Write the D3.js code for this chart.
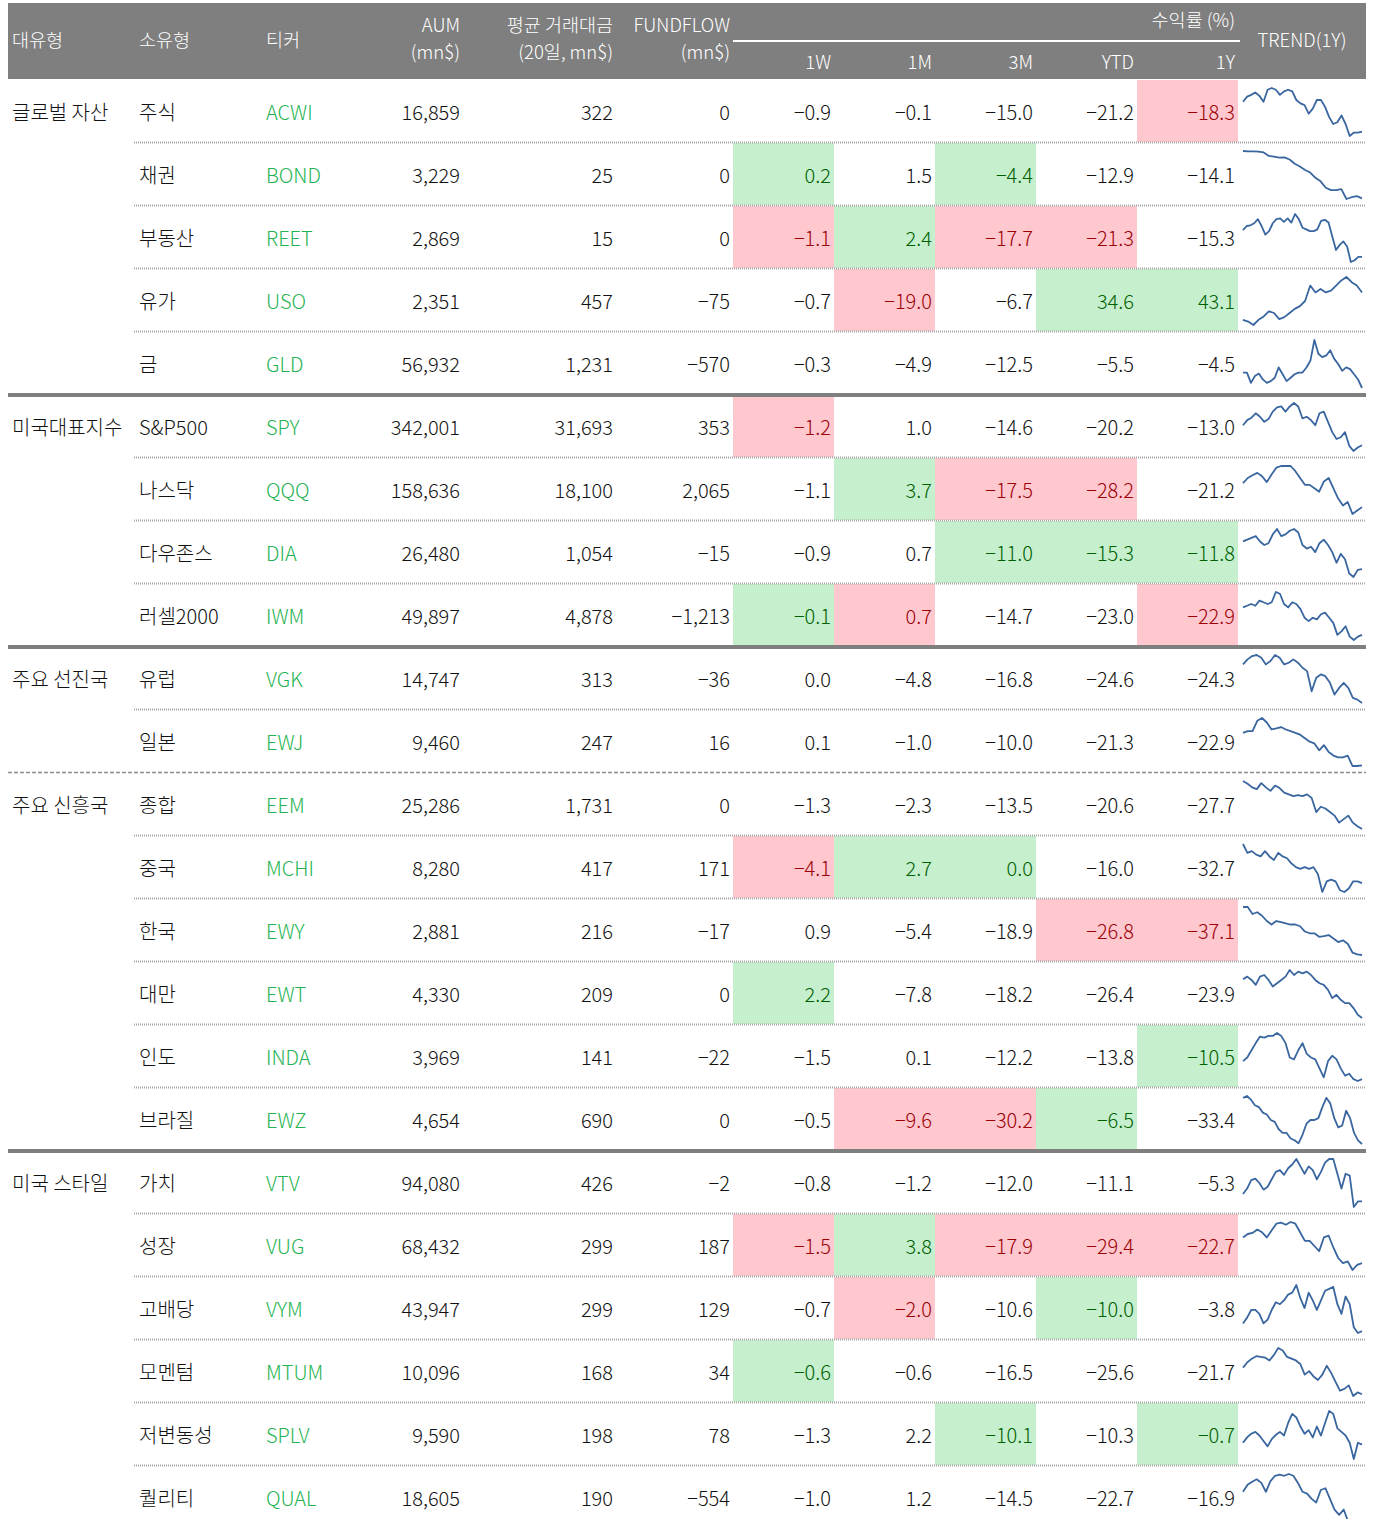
<!DOCTYPE html>
<html>
<head>
<meta charset="utf-8">
<script src="https://cdn.jsdelivr.net/npm/d3@7/dist/d3.min.js"></script>
<style>
  body { margin: 0; background: #fff; }
  svg { display: block; font-family: "Noto Sans CJK KR", "Noto Sans", sans-serif; font-weight: 300; }
</style>
</head>
<body>
<svg id="chart"></svg>
<script>
const groupNames = ['글로벌 자산', '미국대표지수', '주요 선진국', '주요 신흥국', '미국 스타일']
const groupCounts = [5, 4, 2, 6, 6]
const subTypes = ['주식', '채권', '부동산', '유가', '금', 'S&P500', '나스닥', '다우존스', '러셀2000', '유럽', '일본',
  '종합', '중국', '한국', '대만', '인도', '브라질', '가치', '성장', '고배당', '모멘텀', '저변동성', '퀄리티']
const tickers = ['ACWI', 'BOND', 'REET', 'USO', 'GLD', 'SPY', 'QQQ', 'DIA', 'IWM', 'VGK', 'EWJ',
  'EEM', 'MCHI', 'EWY', 'EWT', 'INDA', 'EWZ', 'VTV', 'VUG', 'VYM', 'MTUM', 'SPLV', 'QUAL']
const aum = [16859, 3229, 2869, 2351, 56932, 342001, 158636, 26480, 49897, 14747, 9460,
  25286, 8280, 2881, 4330, 3969, 4654, 94080, 68432, 43947, 10096, 9590, 18605]
const avgVolume = [322, 25, 15, 457, 1231, 31693, 18100, 1054, 4878, 313, 247,
  1731, 417, 216, 209, 141, 690, 426, 299, 299, 168, 198, 190]
const fundflow = [0, 0, 0, -75, -570, 353, 2065, -15, -1213, -36, 16,
  0, 171, -17, 0, -22, 0, -2, 187, 129, 34, 78, -554]
const ret1W = [-0.9, 0.2, -1.1, -0.7, -0.3, -1.2, -1.1, -0.9, -0.1, 0.0, 0.1,
  -1.3, -4.1, 0.9, 2.2, -1.5, -0.5, -0.8, -1.5, -0.7, -0.6, -1.3, -1.0]
const ret1M = [-0.1, 1.5, 2.4, -19.0, -4.9, 1.0, 3.7, 0.7, 0.7, -4.8, -1.0,
  -2.3, 2.7, -5.4, -7.8, 0.1, -9.6, -1.2, 3.8, -2.0, -0.6, 2.2, 1.2]
const ret3M = [-15.0, -4.4, -17.7, -6.7, -12.5, -14.6, -17.5, -11.0, -14.7, -16.8, -10.0,
  -13.5, 0.0, -18.9, -18.2, -12.2, -30.2, -12.0, -17.9, -10.6, -16.5, -10.1, -14.5]
const retYTD = [-21.2, -12.9, -21.3, 34.6, -5.5, -20.2, -28.2, -15.3, -23.0, -24.6, -21.3,
  -20.6, -16.0, -26.8, -26.4, -13.8, -6.5, -11.1, -29.4, -10.0, -25.6, -10.3, -22.7]
const ret1Y = [-18.3, -14.1, -15.3, 43.1, -4.5, -13.0, -21.2, -11.8, -22.9, -24.3, -22.9,
  -27.7, -32.7, -37.1, -23.9, -10.5, -33.4, -5.3, -22.7, -3.8, -21.7, -0.7, -16.9]
// r = red fill, g = green fill, per column 1W 1M 3M YTD 1Y
const highlights = ['....r', 'g.g..', 'rgrr.', '.r.gg', '.....', 'r....', '.grr.', '..ggg', 'gr..r', '.....', '.....',
  '.....', 'rgg..', '...rr', 'g....', '....g', '.rrg.', '.....', 'rgrrr', '.r.g.', 'g....', '..g.g', '.....']
const retLabels = ['1W', '1M', '3M', 'YTD', '1Y']

const trends = [
  [125,140,145,152,142,125,160,165,160,145,155,160,155,130,120,115,90,105,130,130,110,80,60,65,85,60,25,35,35,38],
  [164,163,163,162,160,150,148,145,146,140,128,120,110,103,88,78,60,53,53,56,28,33,36,30],
  [115,127,129,135,147,127,102,112,135,147,149,139,149,137,162,147,122,117,112,112,117,142,145,137,97,57,72,82,67,22,27,37,37],
  [36,31,21,36,46,61,56,38,44,56,68,76,91,136,116,126,116,121,136,151,161,146,136,116],
  [64,64,34,54,61,44,34,39,49,79,59,39,49,59,64,64,79,99,159,119,109,114,129,104,89,69,79,74,59,44,19],
  [98,113,120,133,123,108,116,138,150,153,138,153,163,153,118,123,113,98,133,138,108,78,58,63,78,38,23,33,40],
  [112,127,135,142,132,115,137,157,162,162,162,147,127,107,107,97,87,117,127,97,67,47,57,22,32,42],
  [126,131,136,141,126,116,121,146,161,141,146,156,161,151,116,106,111,96,121,131,116,96,66,91,76,36,26,46,48],
  [119,124,129,124,139,134,129,134,164,159,129,119,134,129,114,89,79,89,84,99,104,89,74,39,49,64,34,24,34,39],
  [138,153,163,166,158,138,148,166,158,138,143,153,143,128,118,58,98,108,103,83,48,68,83,68,38,33,23],
  [122,127,127,157,165,152,132,135,139,132,127,122,117,107,97,92,72,87,67,57,52,52,57,27,27,29],
  [164,156,146,141,158,146,136,151,144,131,126,121,124,121,126,116,76,91,86,76,66,46,56,66,46,36,28],
  [164,139,144,134,129,144,129,119,139,129,124,109,99,94,99,94,99,79,29,59,64,59,34,29,39,59,59,54],
  [163,163,143,148,138,123,113,123,120,116,113,113,108,93,88,88,78,80,83,73,63,68,58,33,28,26],
  [139,147,137,122,147,152,137,117,127,137,147,167,152,162,157,162,152,137,127,122,107,82,92,77,67,67,52,32,22],
  [86,96,116,136,154,151,156,156,164,156,136,96,91,116,136,106,96,91,66,41,86,101,91,66,46,51,36,31,36],
  [154,159,149,134,129,114,109,94,89,69,59,59,44,39,31,54,84,94,94,99,129,154,139,99,74,79,119,99,59,39,29],
  [68,83,106,110,98,80,88,108,128,133,120,138,148,163,143,123,143,133,108,128,153,163,163,123,83,123,118,33,48,48],
  [122,132,135,145,137,122,142,162,165,159,167,162,137,112,112,97,82,122,127,92,62,47,52,27,42,47],
  [66,81,101,101,91,66,76,101,121,116,126,141,146,166,131,106,146,126,101,126,151,156,161,116,91,136,116,56,41,46],
  [109,124,134,141,139,137,129,144,164,157,139,134,129,119,89,99,84,74,89,114,94,69,44,49,59,29,39,34],
  [68,83,93,98,88,73,58,78,90,98,88,123,148,138,113,93,103,83,113,88,123,156,148,108,98,88,68,23,68,63],
  [119,139,147,154,144,119,149,164,167,164,169,164,144,119,114,99,89,124,129,99,69,54,69,34,39,34,39]
]

const width = 1375, height = 1519
const left = 8, right = 1366
const headTop = 3, headBottom = 79
const rowH = 63
const fontSize = 20
const headSize = 18.5
const colors = {
  head: '#7f7f7f', text: '#111', ticker: '#1fb352',
  redFill: '#ffc7ce', redText: '#9c0006', greenFill: '#c6efce', greenText: '#006100',
  line: '#3a66a0', sep: '#a6a6a6'
}

const svg = d3.select('#chart').attr('width', width).attr('height', height)

const rows = tickers.map((t, i) => ({
  i, sub: subTypes[i], ticker: t, aum: aum[i], vol: avgVolume[i], flow: fundflow[i],
  rets: [ret1W[i], ret1M[i], ret3M[i], retYTD[i], ret1Y[i]],
  hl: highlights[i], trend: trends[i]
}))

const groupStart = []
let acc = 0
groupCounts.forEach(c => { groupStart.push(acc); acc += c })

const y = d3.scaleBand().domain(d3.range(rows.length)).range([headBottom + 1, headBottom + 1 + rows.length * rowH])
const xRet = d3.scaleBand().domain(retLabels).range([733, 1238])
const fmtInt = d3.format(',')
const fmtRet = d3.format('.1f')

// header
const head = svg.append('g').attr('fill', '#fff').style('font-size', headSize + 'px')
head.append('rect')
  .attr('x', left).attr('y', headTop)
  .attr('width', right - left).attr('height', headBottom - headTop)
  .attr('fill', colors.head)

const hMid = 41
head.append('text').attr('x', 12).attr('y', hMid).attr('dy', '0.35em').text('대유형')
head.append('text').attr('x', 139).attr('y', hMid).attr('dy', '0.35em').text('소유형')
head.append('text').attr('x', 266).attr('y', hMid).attr('dy', '0.35em').text('티커')
const twoLine = [[460, 'AUM', '(mn$)'], [613, '평균 거래대금', '(20일, mn$)'], [730, 'FUNDFLOW', '(mn$)']]
twoLine.forEach(([x, a, b]) => {
  head.append('text').attr('x', x).attr('y', 26).attr('dy', '0.35em').attr('text-anchor', 'end').text(a)
  head.append('text').attr('x', x).attr('y', 53).attr('dy', '0.35em').attr('text-anchor', 'end').text(b)
})
head.append('text').attr('x', 1235).attr('y', 21).attr('dy', '0.35em').attr('text-anchor', 'end').text('수익률 (%)')
head.append('line')
  .attr('x1', xRet.range()[0]).attr('x2', xRet.range()[1] + 2)
  .attr('y1', 41).attr('y2', 41)
  .attr('stroke', '#fff').attr('stroke-width', 2)
head.selectAll('text.sub')
  .data(retLabels)
  .join('text')
  .attr('class', 'sub')
  .attr('x', d => xRet(d) + xRet.bandwidth() - 3)
  .attr('y', 63).attr('dy', '0.35em')
  .attr('text-anchor', 'end')
  .text(d => d)
head.append('text').attr('x', 1302).attr('y', hMid).attr('dy', '0.35em').attr('text-anchor', 'middle').text('TREND(1Y)')

// highlight cells
const cells = []
rows.forEach(r => r.hl.split('').forEach((c, k) => {
  if (c !== '.') cells.push({ row: r.i, col: retLabels[k], c })
}))
svg.append('g').selectAll('rect')
  .data(cells)
  .join('rect')
  .attr('x', d => xRet(d.col))
  .attr('y', d => y(d.row))
  .attr('width', xRet.bandwidth())
  .attr('height', y.bandwidth() - 1)
  .attr('fill', d => d.c === 'r' ? colors.redFill : colors.greenFill)

// separators
const sepG = svg.append('g')
rows.forEach(r => {
  const yy = y(r.i) + y.bandwidth() - 0.5
  const gi = groupStart.indexOf(r.i + 1)
  if (r.i === rows.length - 1) return
  if (gi === -1) {
    sepG.append('line').attr('x1', 134).attr('x2', right).attr('y1', yy).attr('y2', yy)
      .attr('stroke', colors.sep).attr('stroke-width', 2).attr('stroke-dasharray', '1,1')
  } else if (gi === 3) {
    sepG.append('line').attr('x1', left).attr('x2', right).attr('y1', yy).attr('y2', yy)
      .attr('stroke', '#8c8c8c').attr('stroke-width', 1.5).attr('stroke-dasharray', '4,2')
  } else {
    sepG.append('line').attr('x1', left).attr('x2', right).attr('y1', yy + 0.5).attr('y2', yy + 0.5)
      .attr('stroke', colors.head).attr('stroke-width', 4)
  }
})

// body text
const body = svg.append('g').style('font-size', fontSize + 'px').attr('fill', colors.text)
const mid = i => y(i) + y.bandwidth() / 2 + 1.5

body.selectAll('text.group')
  .data(groupNames)
  .join('text')
  .attr('x', 12).attr('y', (d, k) => mid(groupStart[k])).attr('dy', '0.35em')
  .text(d => d)

const rowG = body.selectAll('g.row')
  .data(rows)
  .join('g')
  .attr('transform', d => `translate(0, ${mid(d.i)})`)

rowG.append('text').attr('x', 139).attr('dy', '0.35em').text(d => d.sub)
rowG.append('text').attr('x', 266).attr('dy', '0.35em').attr('fill', colors.ticker).text(d => d.ticker)
rowG.append('text').attr('x', 460).attr('dy', '0.35em').attr('text-anchor', 'end').text(d => fmtInt(d.aum))
rowG.append('text').attr('x', 613).attr('dy', '0.35em').attr('text-anchor', 'end').text(d => fmtInt(d.vol))
rowG.append('text').attr('x', 730).attr('dy', '0.35em').attr('text-anchor', 'end').text(d => fmtInt(d.flow))
rowG.each(function(d) {
  d3.select(this).selectAll('text.ret')
    .data(d.rets.map((v, k) => ({ v, k, c: d.hl[k] })))
    .join('text')
    .attr('class', 'ret')
    .attr('x', e => xRet(retLabels[e.k]) + xRet.bandwidth() - 3)
    .attr('dy', '0.35em')
    .attr('text-anchor', 'end')
    .attr('fill', e => e.c === 'r' ? colors.redText : e.c === 'g' ? colors.greenText : colors.text)
    .text(e => fmtRet(e.v).replace('−0.0', '0.0'))
})

// sparklines
const xs = d3.scaleLinear().range([1243, 1362])
const spark = svg.append('g')
rows.forEach(r => {
  const top = y(r.i)
  xs.domain([0, r.trend.length - 1])
  const ys = d3.scaleLinear().domain(d3.extent(r.trend)).range([top + 56, top + 8])
  const line = d3.line().x((d, k) => xs(k)).y(d => ys(d))
  spark.append('path')
    .attr('d', line(r.trend))
    .attr('fill', 'none')
    .attr('stroke', colors.line)
    .attr('stroke-width', 1.8)
    .attr('stroke-linejoin', 'round')
})
</script>
</body>
</html>
